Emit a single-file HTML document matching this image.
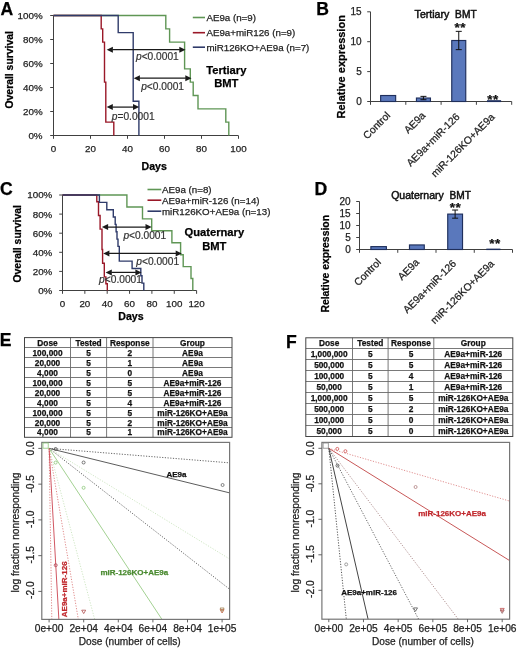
<!DOCTYPE html>
<html><head><meta charset="utf-8"><style>
html,body{margin:0;padding:0;background:#fff;}
svg{display:block;will-change:transform;}
text{font-family:"Liberation Sans", sans-serif;}
</style></head><body>
<svg width="520" height="649" viewBox="0 0 520 649">
<rect width="520" height="649" fill="#fff"/>
<text x="0.40" y="15.00" font-size="17.6" text-anchor="start" font-weight="bold" fill="#000" stroke="#000" stroke-width="0.25"  style="">A</text>
<line x1="53.50" y1="15.50" x2="53.50" y2="136.00" stroke="#404040" stroke-width="1" />
<line x1="50.20" y1="15.50" x2="53.50" y2="15.50" stroke="#404040" stroke-width="1" />
<text x="42.60" y="18.95" font-size="9.8" text-anchor="end" font-weight="normal" fill="#222" stroke="#222" stroke-width="0.25"  style="">100%</text>
<line x1="50.20" y1="39.50" x2="53.50" y2="39.50" stroke="#404040" stroke-width="1" />
<text x="42.60" y="42.95" font-size="9.8" text-anchor="end" font-weight="normal" fill="#222" stroke="#222" stroke-width="0.25"  style="">80%</text>
<line x1="50.20" y1="63.50" x2="53.50" y2="63.50" stroke="#404040" stroke-width="1" />
<text x="42.60" y="66.95" font-size="9.8" text-anchor="end" font-weight="normal" fill="#222" stroke="#222" stroke-width="0.25"  style="">60%</text>
<line x1="50.20" y1="87.50" x2="53.50" y2="87.50" stroke="#404040" stroke-width="1" />
<text x="42.60" y="90.95" font-size="9.8" text-anchor="end" font-weight="normal" fill="#222" stroke="#222" stroke-width="0.25"  style="">40%</text>
<line x1="50.20" y1="111.50" x2="53.50" y2="111.50" stroke="#404040" stroke-width="1" />
<text x="42.60" y="114.95" font-size="9.8" text-anchor="end" font-weight="normal" fill="#222" stroke="#222" stroke-width="0.25"  style="">20%</text>
<line x1="50.20" y1="135.50" x2="53.50" y2="135.50" stroke="#404040" stroke-width="1" />
<text x="42.60" y="138.95" font-size="9.8" text-anchor="end" font-weight="normal" fill="#222" stroke="#222" stroke-width="0.25"  style="">0%</text>
<line x1="53.50" y1="135.50" x2="238.30" y2="135.50" stroke="#404040" stroke-width="1" />
<line x1="53.50" y1="135.50" x2="53.50" y2="138.80" stroke="#404040" stroke-width="1" />
<text x="53.50" y="151.80" font-size="9.8" text-anchor="middle" font-weight="normal" fill="#222" stroke="#222" stroke-width="0.25"  style="">0</text>
<line x1="90.50" y1="135.50" x2="90.50" y2="138.80" stroke="#404040" stroke-width="1" />
<text x="90.50" y="151.80" font-size="9.8" text-anchor="middle" font-weight="normal" fill="#222" stroke="#222" stroke-width="0.25"  style="">20</text>
<line x1="127.50" y1="135.50" x2="127.50" y2="138.80" stroke="#404040" stroke-width="1" />
<text x="127.50" y="151.80" font-size="9.8" text-anchor="middle" font-weight="normal" fill="#222" stroke="#222" stroke-width="0.25"  style="">40</text>
<line x1="164.50" y1="135.50" x2="164.50" y2="138.80" stroke="#404040" stroke-width="1" />
<text x="164.50" y="151.80" font-size="9.8" text-anchor="middle" font-weight="normal" fill="#222" stroke="#222" stroke-width="0.25"  style="">60</text>
<line x1="201.50" y1="135.50" x2="201.50" y2="138.80" stroke="#404040" stroke-width="1" />
<text x="201.50" y="151.80" font-size="9.8" text-anchor="middle" font-weight="normal" fill="#222" stroke="#222" stroke-width="0.25"  style="">80</text>
<line x1="238.50" y1="135.50" x2="238.50" y2="138.80" stroke="#404040" stroke-width="1" />
<text x="238.50" y="151.80" font-size="9.8" text-anchor="middle" font-weight="normal" fill="#222" stroke="#222" stroke-width="0.25"  style="">100</text>
<text x="0" y="0" transform="translate(13.20,69.80) rotate(-90)" font-size="10.4" text-anchor="middle" font-weight="bold" fill="#000" stroke="#000" stroke-width="0.25">Overall survival</text>
<text x="154.20" y="169.60" font-size="10.6" text-anchor="middle" font-weight="bold" fill="#000" stroke="#000" stroke-width="0.25"  style="">Days</text>
<polyline points="53.50,15.50 165.80,15.50 165.80,28.83 169.60,28.83 169.60,42.17 184.60,42.17 184.60,68.83 190.30,68.83 190.30,82.17 193.20,82.17 193.20,95.50 198.00,95.50 198.00,108.83 225.80,108.83 225.80,122.17 228.80,122.17 228.80,135.50" fill="none" stroke="#5f9655" stroke-width="1.4" stroke-linejoin="miter" />
<polyline points="53.50,15.50 101.20,15.50 101.20,28.83 102.70,28.83 102.70,42.17 104.50,42.17 104.50,82.17 105.80,82.17 105.80,122.17 113.80,122.17 113.80,135.50" fill="none" stroke="#9a1828" stroke-width="1.4" stroke-linejoin="miter" />
<polyline points="53.50,15.50 118.20,15.50 118.20,32.64 133.20,32.64 133.20,101.21 138.90,101.21 138.90,135.50" fill="none" stroke="#2f3b6a" stroke-width="1.4" stroke-linejoin="miter" />
<line x1="112.40" y1="49.70" x2="179.80" y2="49.70" stroke="#1a1a1a" stroke-width="1.25" />
<polygon points="106.70,49.70 112.90,46.70 112.90,52.70" fill="#1a1a1a"/>
<polygon points="185.50,49.70 179.30,46.70 179.30,52.70" fill="#1a1a1a"/>
<line x1="139.40" y1="78.20" x2="185.80" y2="78.20" stroke="#1a1a1a" stroke-width="1.25" />
<polygon points="133.70,78.20 139.90,75.20 139.90,81.20" fill="#1a1a1a"/>
<polygon points="191.50,78.20 185.30,75.20 185.30,81.20" fill="#1a1a1a"/>
<line x1="112.30" y1="107.10" x2="133.50" y2="107.10" stroke="#1a1a1a" stroke-width="1.25" />
<polygon points="106.60,107.10 112.80,104.10 112.80,110.10" fill="#1a1a1a"/>
<polygon points="139.20,107.10 133.00,104.10 133.00,110.10" fill="#1a1a1a"/>
<text x="136.00" y="60.20" font-size="10.2" fill="#333333" stroke="#333333" stroke-width="0.2"><tspan font-style="italic">p</tspan>&lt;0.0001</text>
<text x="141.20" y="90.00" font-size="10.2" fill="#333333" stroke="#333333" stroke-width="0.2"><tspan font-style="italic">p</tspan>&lt;0.0001</text>
<text x="111.80" y="120.00" font-size="10.2" fill="#333333" stroke="#333333" stroke-width="0.2"><tspan font-style="italic">p</tspan>=0.0001</text>
<line x1="192.80" y1="17.50" x2="205.00" y2="17.50" stroke="#5f9655" stroke-width="1.6" />
<text x="206.40" y="21.00" font-size="9.75" text-anchor="start" font-weight="normal" fill="#222" stroke="#222" stroke-width="0.25"  style="">AE9a (n=9)</text>
<line x1="192.80" y1="32.70" x2="205.00" y2="32.70" stroke="#9a1828" stroke-width="1.6" />
<text x="206.40" y="36.20" font-size="9.75" text-anchor="start" font-weight="normal" fill="#222" stroke="#222" stroke-width="0.25"  style="">AE9a+miR126 (n=9)</text>
<line x1="192.80" y1="47.20" x2="205.00" y2="47.20" stroke="#2f3b6a" stroke-width="1.6" />
<text x="206.40" y="50.70" font-size="9.75" text-anchor="start" font-weight="normal" fill="#222" stroke="#222" stroke-width="0.25"  style="">miR126KO+AE9a (n=7)</text>
<text x="226.30" y="73.80" font-size="11.2" text-anchor="middle" font-weight="bold" fill="#000" stroke="#000" stroke-width="0.25"  style="">Tertiary</text>
<text x="226.30" y="87.30" font-size="11.2" text-anchor="middle" font-weight="bold" fill="#000" stroke="#000" stroke-width="0.25"  style="">BMT</text>
<text x="0.00" y="194.50" font-size="17.6" text-anchor="start" font-weight="bold" fill="#000" stroke="#000" stroke-width="0.25"  style="">C</text>
<line x1="62.50" y1="195.00" x2="62.50" y2="291.00" stroke="#404040" stroke-width="1" />
<line x1="59.20" y1="195.00" x2="62.50" y2="195.00" stroke="#404040" stroke-width="1" />
<text x="52.30" y="198.45" font-size="9.8" text-anchor="end" font-weight="normal" fill="#222" stroke="#222" stroke-width="0.25"  style="">100%</text>
<line x1="59.20" y1="214.10" x2="62.50" y2="214.10" stroke="#404040" stroke-width="1" />
<text x="52.30" y="217.55" font-size="9.8" text-anchor="end" font-weight="normal" fill="#222" stroke="#222" stroke-width="0.25"  style="">80%</text>
<line x1="59.20" y1="233.20" x2="62.50" y2="233.20" stroke="#404040" stroke-width="1" />
<text x="52.30" y="236.65" font-size="9.8" text-anchor="end" font-weight="normal" fill="#222" stroke="#222" stroke-width="0.25"  style="">60%</text>
<line x1="59.20" y1="252.30" x2="62.50" y2="252.30" stroke="#404040" stroke-width="1" />
<text x="52.30" y="255.75" font-size="9.8" text-anchor="end" font-weight="normal" fill="#222" stroke="#222" stroke-width="0.25"  style="">40%</text>
<line x1="59.20" y1="271.40" x2="62.50" y2="271.40" stroke="#404040" stroke-width="1" />
<text x="52.30" y="274.85" font-size="9.8" text-anchor="end" font-weight="normal" fill="#222" stroke="#222" stroke-width="0.25"  style="">20%</text>
<line x1="59.20" y1="290.50" x2="62.50" y2="290.50" stroke="#404040" stroke-width="1" />
<text x="52.30" y="293.95" font-size="9.8" text-anchor="end" font-weight="normal" fill="#222" stroke="#222" stroke-width="0.25"  style="">0%</text>
<line x1="62.50" y1="290.50" x2="196.60" y2="290.50" stroke="#404040" stroke-width="1" />
<line x1="62.50" y1="290.50" x2="62.50" y2="293.80" stroke="#404040" stroke-width="1" />
<text x="62.50" y="306.50" font-size="9.8" text-anchor="middle" font-weight="normal" fill="#222" stroke="#222" stroke-width="0.25"  style="">0</text>
<line x1="84.85" y1="290.50" x2="84.85" y2="293.80" stroke="#404040" stroke-width="1" />
<text x="84.85" y="306.50" font-size="9.8" text-anchor="middle" font-weight="normal" fill="#222" stroke="#222" stroke-width="0.25"  style="">20</text>
<line x1="107.20" y1="290.50" x2="107.20" y2="293.80" stroke="#404040" stroke-width="1" />
<text x="107.20" y="306.50" font-size="9.8" text-anchor="middle" font-weight="normal" fill="#222" stroke="#222" stroke-width="0.25"  style="">40</text>
<line x1="129.55" y1="290.50" x2="129.55" y2="293.80" stroke="#404040" stroke-width="1" />
<text x="129.55" y="306.50" font-size="9.8" text-anchor="middle" font-weight="normal" fill="#222" stroke="#222" stroke-width="0.25"  style="">60</text>
<line x1="151.90" y1="290.50" x2="151.90" y2="293.80" stroke="#404040" stroke-width="1" />
<text x="151.90" y="306.50" font-size="9.8" text-anchor="middle" font-weight="normal" fill="#222" stroke="#222" stroke-width="0.25"  style="">80</text>
<line x1="174.25" y1="290.50" x2="174.25" y2="293.80" stroke="#404040" stroke-width="1" />
<text x="174.25" y="306.50" font-size="9.8" text-anchor="middle" font-weight="normal" fill="#222" stroke="#222" stroke-width="0.25"  style="">100</text>
<line x1="196.60" y1="290.50" x2="196.60" y2="293.80" stroke="#404040" stroke-width="1" />
<text x="196.60" y="306.50" font-size="9.8" text-anchor="middle" font-weight="normal" fill="#222" stroke="#222" stroke-width="0.25"  style="">120</text>
<text x="0" y="0" transform="translate(21.00,243.80) rotate(-90)" font-size="10.4" text-anchor="middle" font-weight="bold" fill="#000" stroke="#000" stroke-width="0.25">Overall survival</text>
<text x="131.00" y="320.30" font-size="10.6" text-anchor="middle" font-weight="bold" fill="#000" stroke="#000" stroke-width="0.25"  style="">Days</text>
<polyline points="62.50,195.00 126.90,195.00 126.90,206.94 142.50,206.94 142.50,218.88 151.70,218.88 151.70,230.81 171.90,230.81 171.90,242.75 180.60,242.75 180.60,254.69 183.20,254.69 183.20,266.62 191.00,266.62 191.00,278.56 192.80,278.56 192.80,290.50" fill="none" stroke="#5f9655" stroke-width="1.4" stroke-linejoin="miter" />
<polyline points="62.50,195.00 96.80,195.00 96.80,201.82 98.50,201.82 98.50,215.46 100.10,215.46 100.10,229.11 102.00,229.11 102.00,249.57 102.60,249.57 102.60,263.21 104.30,263.21 104.30,276.86 105.90,276.86 105.90,283.68 107.30,283.68 107.30,290.50" fill="none" stroke="#9a1828" stroke-width="1.4" stroke-linejoin="miter" />
<polyline points="62.50,195.00 99.40,195.00 99.40,202.35 106.80,202.35 106.80,209.69 113.30,209.69 113.30,217.04 115.20,217.04 115.20,224.38 116.10,224.38 116.10,231.73 117.00,231.73 117.00,239.08 118.00,239.08 118.00,246.42 119.30,246.42 119.30,253.77 119.30,253.77 119.30,261.12 132.10,261.12 132.10,268.46 140.80,268.46 140.80,275.81 142.00,275.81 142.00,283.15 143.80,283.15 143.80,290.50" fill="none" stroke="#2f3b6a" stroke-width="1.4" stroke-linejoin="miter" />
<line x1="107.60" y1="227.00" x2="146.00" y2="227.00" stroke="#1a1a1a" stroke-width="1.25" />
<polygon points="101.90,227.00 108.10,224.00 108.10,230.00" fill="#1a1a1a"/>
<polygon points="151.70,227.00 145.50,224.00 145.50,230.00" fill="#1a1a1a"/>
<line x1="108.90" y1="253.40" x2="176.20" y2="253.40" stroke="#1a1a1a" stroke-width="1.25" />
<polygon points="103.20,253.40 109.40,250.40 109.40,256.40" fill="#1a1a1a"/>
<polygon points="181.90,253.40 175.70,250.40 175.70,256.40" fill="#1a1a1a"/>
<line x1="111.30" y1="272.40" x2="135.90" y2="272.40" stroke="#1a1a1a" stroke-width="1.25" />
<polygon points="105.60,272.40 111.80,269.40 111.80,275.40" fill="#1a1a1a"/>
<polygon points="141.60,272.40 135.40,269.40 135.40,275.40" fill="#1a1a1a"/>
<text x="123.40" y="239.30" font-size="10.2" fill="#333333" stroke="#333333" stroke-width="0.2"><tspan font-style="italic">p</tspan>&lt;0.0001</text>
<text x="136.30" y="265.30" font-size="10.2" fill="#333333" stroke="#333333" stroke-width="0.2"><tspan font-style="italic">p</tspan>&lt;0.0001</text>
<text x="99.10" y="282.90" font-size="10.2" fill="#333333" stroke="#333333" stroke-width="0.2"><tspan font-style="italic">p</tspan>&lt;0.0001</text>
<line x1="147.50" y1="189.50" x2="161.30" y2="189.50" stroke="#5f9655" stroke-width="1.6" />
<text x="162.00" y="192.90" font-size="9.75" text-anchor="start" font-weight="normal" fill="#222" stroke="#222" stroke-width="0.25"  style="">AE9a (n=8)</text>
<line x1="147.50" y1="200.20" x2="161.30" y2="200.20" stroke="#9a1828" stroke-width="1.6" />
<text x="162.00" y="203.60" font-size="9.75" text-anchor="start" font-weight="normal" fill="#222" stroke="#222" stroke-width="0.25"  style="">AE9a+miR-126 (n=14)</text>
<line x1="147.50" y1="211.20" x2="161.30" y2="211.20" stroke="#2f3b6a" stroke-width="1.6" />
<text x="162.00" y="214.60" font-size="9.75" text-anchor="start" font-weight="normal" fill="#222" stroke="#222" stroke-width="0.25"  style="">miR126KO+AE9a (n=13)</text>
<text x="214.30" y="236.40" font-size="11.2" text-anchor="middle" font-weight="bold" fill="#000" stroke="#000" stroke-width="0.25"  style="">Quaternary</text>
<text x="214.30" y="250.30" font-size="11.2" text-anchor="middle" font-weight="bold" fill="#000" stroke="#000" stroke-width="0.25"  style="">BMT</text>
<text x="316.20" y="15.30" font-size="17.6" text-anchor="start" font-weight="bold" fill="#000" stroke="#000" stroke-width="0.25"  style="">B</text>
<line x1="370.50" y1="11.80" x2="370.50" y2="102.00" stroke="#404040" stroke-width="1" />
<line x1="367.20" y1="101.50" x2="370.50" y2="101.50" stroke="#404040" stroke-width="1" />
<text x="361.70" y="105.00" font-size="10" text-anchor="end" font-weight="normal" fill="#222" stroke="#222" stroke-width="0.25"  style="">0</text>
<line x1="367.20" y1="71.60" x2="370.50" y2="71.60" stroke="#404040" stroke-width="1" />
<text x="361.70" y="75.10" font-size="10" text-anchor="end" font-weight="normal" fill="#222" stroke="#222" stroke-width="0.25"  style="">5</text>
<line x1="367.20" y1="41.70" x2="370.50" y2="41.70" stroke="#404040" stroke-width="1" />
<text x="361.70" y="45.20" font-size="10" text-anchor="end" font-weight="normal" fill="#222" stroke="#222" stroke-width="0.25"  style="">10</text>
<line x1="367.20" y1="11.80" x2="370.50" y2="11.80" stroke="#404040" stroke-width="1" />
<text x="361.70" y="15.30" font-size="10" text-anchor="end" font-weight="normal" fill="#222" stroke="#222" stroke-width="0.25"  style="">15</text>
<line x1="370.50" y1="101.50" x2="511.70" y2="101.50" stroke="#404040" stroke-width="1" />
<line x1="370.50" y1="101.50" x2="370.50" y2="104.80" stroke="#404040" stroke-width="1" />
<line x1="405.80" y1="101.50" x2="405.80" y2="104.80" stroke="#404040" stroke-width="1" />
<line x1="441.10" y1="101.50" x2="441.10" y2="104.80" stroke="#404040" stroke-width="1" />
<line x1="476.40" y1="101.50" x2="476.40" y2="104.80" stroke="#404040" stroke-width="1" />
<line x1="511.70" y1="101.50" x2="511.70" y2="104.80" stroke="#404040" stroke-width="1" />
<rect x="380.65" y="95.52" width="15.00" height="5.98" fill="#5a78bc" stroke="#1f2f5c" stroke-width="1.15"/>
<rect x="416.45" y="98.03" width="14.00" height="3.47" fill="#5a78bc" stroke="#1f2f5c" stroke-width="1.15"/>
<line x1="423.45" y1="96.36" x2="423.45" y2="99.71" stroke="#111" stroke-width="1" />
<line x1="420.45" y1="96.36" x2="426.45" y2="96.36" stroke="#111" stroke-width="1" />
<line x1="420.45" y1="99.71" x2="426.45" y2="99.71" stroke="#111" stroke-width="1" />
<rect x="451.75" y="40.50" width="14.00" height="61.00" fill="#5a78bc" stroke="#1f2f5c" stroke-width="1.15"/>
<line x1="458.75" y1="31.35" x2="458.75" y2="49.65" stroke="#111" stroke-width="1" />
<line x1="455.75" y1="31.35" x2="461.75" y2="31.35" stroke="#111" stroke-width="1" />
<line x1="455.75" y1="49.65" x2="461.75" y2="49.65" stroke="#111" stroke-width="1" />
<rect x="487.55" y="100.78" width="13.00" height="0.72" fill="#5a78bc" stroke="#1f2f5c" stroke-width="1.15"/>
<text x="0" y="0" transform="translate(390.85,116.20) rotate(-45)" font-size="10.3" text-anchor="end" font-weight="normal" fill="#222" stroke="#222" stroke-width="0.25">Control</text>
<text x="0" y="0" transform="translate(426.15,116.20) rotate(-45)" font-size="10.3" text-anchor="end" font-weight="normal" fill="#222" stroke="#222" stroke-width="0.25">AE9a</text>
<text x="0" y="0" transform="translate(460.25,117.40) rotate(-45)" font-size="10.3" text-anchor="end" font-weight="normal" fill="#222" stroke="#222" stroke-width="0.25">AE9a+miR-126</text>
<text x="0" y="0" transform="translate(495.25,117.70) rotate(-45)" font-size="10.3" text-anchor="end" font-weight="normal" fill="#222" stroke="#222" stroke-width="0.25">miR-126KO+AE9a</text>
<text x="414.60" y="18.20" font-size="10.6" text-anchor="start" font-weight="normal" fill="#111" stroke="#111" stroke-width="0.5"  style="">Tertiary</text>
<text x="455.10" y="18.20" font-size="10.2" text-anchor="start" font-weight="normal" fill="#111" stroke="#111" stroke-width="0.5"  style="">BMT</text>
<text x="0" y="0" transform="translate(344.80,66.80) rotate(-90)" font-size="11.0" text-anchor="middle" font-weight="bold" fill="#000" stroke="#000" stroke-width="0.25">Relative expression</text>
<text x="460.30" y="31.80" font-size="13.5" text-anchor="middle" font-weight="bold" fill="#111" stroke="#111" stroke-width="0.25" letter-spacing="0.6" style="">**</text>
<text x="493.00" y="103.80" font-size="13.5" text-anchor="middle" font-weight="bold" fill="#111" stroke="#111" stroke-width="0.25" letter-spacing="0.6" style="">**</text>
<text x="314.40" y="194.80" font-size="17.6" text-anchor="start" font-weight="bold" fill="#000" stroke="#000" stroke-width="0.25"  style="">D</text>
<line x1="359.50" y1="201.50" x2="359.50" y2="250.00" stroke="#404040" stroke-width="1" />
<line x1="356.20" y1="249.50" x2="359.50" y2="249.50" stroke="#404040" stroke-width="1" />
<text x="350.70" y="253.00" font-size="10" text-anchor="end" font-weight="normal" fill="#222" stroke="#222" stroke-width="0.25"  style="">0</text>
<line x1="356.20" y1="237.50" x2="359.50" y2="237.50" stroke="#404040" stroke-width="1" />
<text x="350.70" y="241.00" font-size="10" text-anchor="end" font-weight="normal" fill="#222" stroke="#222" stroke-width="0.25"  style="">5</text>
<line x1="356.20" y1="225.50" x2="359.50" y2="225.50" stroke="#404040" stroke-width="1" />
<text x="350.70" y="229.00" font-size="10" text-anchor="end" font-weight="normal" fill="#222" stroke="#222" stroke-width="0.25"  style="">10</text>
<line x1="356.20" y1="213.50" x2="359.50" y2="213.50" stroke="#404040" stroke-width="1" />
<text x="350.70" y="217.00" font-size="10" text-anchor="end" font-weight="normal" fill="#222" stroke="#222" stroke-width="0.25"  style="">15</text>
<line x1="356.20" y1="201.50" x2="359.50" y2="201.50" stroke="#404040" stroke-width="1" />
<text x="350.70" y="205.00" font-size="10" text-anchor="end" font-weight="normal" fill="#222" stroke="#222" stroke-width="0.25"  style="">20</text>
<line x1="359.50" y1="249.50" x2="512.50" y2="249.50" stroke="#404040" stroke-width="1" />
<line x1="359.50" y1="249.50" x2="359.50" y2="252.80" stroke="#404040" stroke-width="1" />
<line x1="397.75" y1="249.50" x2="397.75" y2="252.80" stroke="#404040" stroke-width="1" />
<line x1="436.00" y1="249.50" x2="436.00" y2="252.80" stroke="#404040" stroke-width="1" />
<line x1="474.25" y1="249.50" x2="474.25" y2="252.80" stroke="#404040" stroke-width="1" />
<line x1="512.50" y1="249.50" x2="512.50" y2="252.80" stroke="#404040" stroke-width="1" />
<rect x="370.88" y="246.62" width="15.50" height="2.88" fill="#5a78bc" stroke="#1f2f5c" stroke-width="1.15"/>
<rect x="409.48" y="244.94" width="14.80" height="4.56" fill="#5a78bc" stroke="#1f2f5c" stroke-width="1.15"/>
<rect x="447.73" y="214.10" width="14.80" height="35.40" fill="#5a78bc" stroke="#1f2f5c" stroke-width="1.15"/>
<line x1="455.12" y1="210.02" x2="455.12" y2="218.18" stroke="#111" stroke-width="1" />
<line x1="452.12" y1="210.02" x2="458.12" y2="210.02" stroke="#111" stroke-width="1" />
<line x1="452.12" y1="218.18" x2="458.12" y2="218.18" stroke="#111" stroke-width="1" />
<rect x="486.88" y="249.21" width="13.00" height="0.29" fill="#5a78bc" stroke="#1f2f5c" stroke-width="1.15"/>
<text x="0" y="0" transform="translate(381.62,263.00) rotate(-45)" font-size="10.3" text-anchor="end" font-weight="normal" fill="#222" stroke="#222" stroke-width="0.25">Control</text>
<text x="0" y="0" transform="translate(419.88,263.00) rotate(-45)" font-size="10.3" text-anchor="end" font-weight="normal" fill="#222" stroke="#222" stroke-width="0.25">AE9a</text>
<text x="0" y="0" transform="translate(456.93,264.20) rotate(-45)" font-size="10.3" text-anchor="end" font-weight="normal" fill="#222" stroke="#222" stroke-width="0.25">AE9a+miR-126</text>
<text x="0" y="0" transform="translate(494.88,264.50) rotate(-45)" font-size="10.3" text-anchor="end" font-weight="normal" fill="#222" stroke="#222" stroke-width="0.25">miR-126KO+AE9a</text>
<text x="391.20" y="199.30" font-size="10.5" text-anchor="start" font-weight="normal" fill="#111" stroke="#111" stroke-width="0.5"  style="">Quaternary</text>
<text x="449.60" y="199.30" font-size="10.1" text-anchor="start" font-weight="normal" fill="#111" stroke="#111" stroke-width="0.5"  style="">BMT</text>
<text x="0" y="0" transform="translate(329.30,263.80) rotate(-90)" font-size="10.4" text-anchor="middle" font-weight="bold" fill="#000" stroke="#000" stroke-width="0.25">Relative expression</text>
<text x="455.60" y="211.80" font-size="13.5" text-anchor="middle" font-weight="bold" fill="#111" stroke="#111" stroke-width="0.25" letter-spacing="0.6" style="">**</text>
<text x="495.00" y="248.00" font-size="13.5" text-anchor="middle" font-weight="bold" fill="#111" stroke="#111" stroke-width="0.25" letter-spacing="0.6" style="">**</text>
<text x="-0.20" y="345.50" font-size="17.6" text-anchor="start" font-weight="bold" fill="#000" stroke="#000" stroke-width="0.25"  style="">E</text>
<line x1="24.50" y1="347.50" x2="232.00" y2="347.50" stroke="#6a6a6a" stroke-width="0.9" />
<line x1="24.50" y1="357.50" x2="232.00" y2="357.50" stroke="#6a6a6a" stroke-width="0.9" />
<line x1="24.50" y1="367.50" x2="232.00" y2="367.50" stroke="#6a6a6a" stroke-width="0.9" />
<line x1="24.50" y1="377.50" x2="232.00" y2="377.50" stroke="#6a6a6a" stroke-width="0.9" />
<line x1="24.50" y1="387.50" x2="232.00" y2="387.50" stroke="#6a6a6a" stroke-width="0.9" />
<line x1="24.50" y1="397.50" x2="232.00" y2="397.50" stroke="#6a6a6a" stroke-width="0.9" />
<line x1="24.50" y1="407.50" x2="232.00" y2="407.50" stroke="#6a6a6a" stroke-width="0.9" />
<line x1="24.50" y1="417.50" x2="232.00" y2="417.50" stroke="#6a6a6a" stroke-width="0.9" />
<line x1="24.50" y1="427.50" x2="232.00" y2="427.50" stroke="#6a6a6a" stroke-width="0.9" />
<line x1="70.50" y1="337.60" x2="70.50" y2="437.30" stroke="#6a6a6a" stroke-width="0.9" />
<line x1="106.60" y1="337.60" x2="106.60" y2="437.30" stroke="#6a6a6a" stroke-width="0.9" />
<line x1="153.00" y1="337.60" x2="153.00" y2="437.30" stroke="#6a6a6a" stroke-width="0.9" />
<rect x="24.50" y="337.60" width="207.50" height="99.70" fill="none" stroke="#444" stroke-width="1"/>
<text x="47.50" y="345.50" font-size="8.3" text-anchor="middle" font-weight="bold" fill="#111" stroke="#111" stroke-width="0.25"  style="">Dose</text>
<text x="88.55" y="345.50" font-size="8.3" text-anchor="middle" font-weight="bold" fill="#111" stroke="#111" stroke-width="0.25"  style="">Tested</text>
<text x="129.80" y="345.50" font-size="8.3" text-anchor="middle" font-weight="bold" fill="#111" stroke="#111" stroke-width="0.25"  style="">Response</text>
<text x="192.50" y="345.50" font-size="8.3" text-anchor="middle" font-weight="bold" fill="#111" stroke="#111" stroke-width="0.25"  style="">Group</text>
<text x="47.50" y="355.50" font-size="8.3" text-anchor="middle" font-weight="bold" fill="#111" stroke="#111" stroke-width="0.25"  style="">100,000</text>
<text x="88.55" y="355.50" font-size="8.3" text-anchor="middle" font-weight="bold" fill="#111" stroke="#111" stroke-width="0.25"  style="">5</text>
<text x="129.80" y="355.50" font-size="8.3" text-anchor="middle" font-weight="bold" fill="#111" stroke="#111" stroke-width="0.25"  style="">2</text>
<text x="192.50" y="355.50" font-size="8.3" text-anchor="middle" font-weight="bold" fill="#111" stroke="#111" stroke-width="0.25"  style="">AE9a</text>
<text x="47.50" y="365.50" font-size="8.3" text-anchor="middle" font-weight="bold" fill="#111" stroke="#111" stroke-width="0.25"  style="">20,000</text>
<text x="88.55" y="365.50" font-size="8.3" text-anchor="middle" font-weight="bold" fill="#111" stroke="#111" stroke-width="0.25"  style="">5</text>
<text x="129.80" y="365.50" font-size="8.3" text-anchor="middle" font-weight="bold" fill="#111" stroke="#111" stroke-width="0.25"  style="">1</text>
<text x="192.50" y="365.50" font-size="8.3" text-anchor="middle" font-weight="bold" fill="#111" stroke="#111" stroke-width="0.25"  style="">AE9a</text>
<text x="47.50" y="375.50" font-size="8.3" text-anchor="middle" font-weight="bold" fill="#111" stroke="#111" stroke-width="0.25"  style="">4,000</text>
<text x="88.55" y="375.50" font-size="8.3" text-anchor="middle" font-weight="bold" fill="#111" stroke="#111" stroke-width="0.25"  style="">5</text>
<text x="129.80" y="375.50" font-size="8.3" text-anchor="middle" font-weight="bold" fill="#111" stroke="#111" stroke-width="0.25"  style="">0</text>
<text x="192.50" y="375.50" font-size="8.3" text-anchor="middle" font-weight="bold" fill="#111" stroke="#111" stroke-width="0.25"  style="">AE9a</text>
<text x="47.50" y="385.50" font-size="8.3" text-anchor="middle" font-weight="bold" fill="#111" stroke="#111" stroke-width="0.25"  style="">100,000</text>
<text x="88.55" y="385.50" font-size="8.3" text-anchor="middle" font-weight="bold" fill="#111" stroke="#111" stroke-width="0.25"  style="">5</text>
<text x="129.80" y="385.50" font-size="8.3" text-anchor="middle" font-weight="bold" fill="#111" stroke="#111" stroke-width="0.25"  style="">5</text>
<text x="192.50" y="385.50" font-size="8.3" text-anchor="middle" font-weight="bold" fill="#111" stroke="#111" stroke-width="0.25"  style="">AE9a+miR-126</text>
<text x="47.50" y="395.50" font-size="8.3" text-anchor="middle" font-weight="bold" fill="#111" stroke="#111" stroke-width="0.25"  style="">20,000</text>
<text x="88.55" y="395.50" font-size="8.3" text-anchor="middle" font-weight="bold" fill="#111" stroke="#111" stroke-width="0.25"  style="">5</text>
<text x="129.80" y="395.50" font-size="8.3" text-anchor="middle" font-weight="bold" fill="#111" stroke="#111" stroke-width="0.25"  style="">5</text>
<text x="192.50" y="395.50" font-size="8.3" text-anchor="middle" font-weight="bold" fill="#111" stroke="#111" stroke-width="0.25"  style="">AE9a+miR-126</text>
<text x="47.50" y="405.50" font-size="8.3" text-anchor="middle" font-weight="bold" fill="#111" stroke="#111" stroke-width="0.25"  style="">4,000</text>
<text x="88.55" y="405.50" font-size="8.3" text-anchor="middle" font-weight="bold" fill="#111" stroke="#111" stroke-width="0.25"  style="">5</text>
<text x="129.80" y="405.50" font-size="8.3" text-anchor="middle" font-weight="bold" fill="#111" stroke="#111" stroke-width="0.25"  style="">4</text>
<text x="192.50" y="405.50" font-size="8.3" text-anchor="middle" font-weight="bold" fill="#111" stroke="#111" stroke-width="0.25"  style="">AE9a+miR-126</text>
<text x="47.50" y="415.50" font-size="8.3" text-anchor="middle" font-weight="bold" fill="#111" stroke="#111" stroke-width="0.25"  style="">100,000</text>
<text x="88.55" y="415.50" font-size="8.3" text-anchor="middle" font-weight="bold" fill="#111" stroke="#111" stroke-width="0.25"  style="">5</text>
<text x="129.80" y="415.50" font-size="8.3" text-anchor="middle" font-weight="bold" fill="#111" stroke="#111" stroke-width="0.25"  style="">5</text>
<text x="192.50" y="415.50" font-size="8.3" text-anchor="middle" font-weight="bold" fill="#111" stroke="#111" stroke-width="0.25"  style="">miR-126KO+AE9a</text>
<text x="47.50" y="425.50" font-size="8.3" text-anchor="middle" font-weight="bold" fill="#111" stroke="#111" stroke-width="0.25"  style="">20,000</text>
<text x="88.55" y="425.50" font-size="8.3" text-anchor="middle" font-weight="bold" fill="#111" stroke="#111" stroke-width="0.25"  style="">5</text>
<text x="129.80" y="425.50" font-size="8.3" text-anchor="middle" font-weight="bold" fill="#111" stroke="#111" stroke-width="0.25"  style="">2</text>
<text x="192.50" y="425.50" font-size="8.3" text-anchor="middle" font-weight="bold" fill="#111" stroke="#111" stroke-width="0.25"  style="">miR-126KO+AE9a</text>
<text x="47.50" y="435.30" font-size="8.3" text-anchor="middle" font-weight="bold" fill="#111" stroke="#111" stroke-width="0.25"  style="">4,000</text>
<text x="88.55" y="435.30" font-size="8.3" text-anchor="middle" font-weight="bold" fill="#111" stroke="#111" stroke-width="0.25"  style="">5</text>
<text x="129.80" y="435.30" font-size="8.3" text-anchor="middle" font-weight="bold" fill="#111" stroke="#111" stroke-width="0.25"  style="">1</text>
<text x="192.50" y="435.30" font-size="8.3" text-anchor="middle" font-weight="bold" fill="#111" stroke="#111" stroke-width="0.25"  style="">miR-126KO+AE9a</text>
<text x="286.00" y="347.50" font-size="17.6" text-anchor="start" font-weight="bold" fill="#000" stroke="#000" stroke-width="0.25"  style="">F</text>
<line x1="305.80" y1="348.50" x2="512.80" y2="348.50" stroke="#6a6a6a" stroke-width="0.9" />
<line x1="305.80" y1="359.50" x2="512.80" y2="359.50" stroke="#6a6a6a" stroke-width="0.9" />
<line x1="305.80" y1="370.50" x2="512.80" y2="370.50" stroke="#6a6a6a" stroke-width="0.9" />
<line x1="305.80" y1="381.50" x2="512.80" y2="381.50" stroke="#6a6a6a" stroke-width="0.9" />
<line x1="305.80" y1="392.50" x2="512.80" y2="392.50" stroke="#6a6a6a" stroke-width="0.9" />
<line x1="305.80" y1="403.50" x2="512.80" y2="403.50" stroke="#6a6a6a" stroke-width="0.9" />
<line x1="305.80" y1="414.50" x2="512.80" y2="414.50" stroke="#6a6a6a" stroke-width="0.9" />
<line x1="305.80" y1="425.50" x2="512.80" y2="425.50" stroke="#6a6a6a" stroke-width="0.9" />
<line x1="352.50" y1="337.80" x2="352.50" y2="436.50" stroke="#6a6a6a" stroke-width="0.9" />
<line x1="388.10" y1="337.80" x2="388.10" y2="436.50" stroke="#6a6a6a" stroke-width="0.9" />
<line x1="433.80" y1="337.80" x2="433.80" y2="436.50" stroke="#6a6a6a" stroke-width="0.9" />
<rect x="305.80" y="337.80" width="207.00" height="98.70" fill="none" stroke="#444" stroke-width="1"/>
<text x="329.15" y="345.80" font-size="8.3" text-anchor="middle" font-weight="bold" fill="#111" stroke="#111" stroke-width="0.25"  style="">Dose</text>
<text x="370.30" y="345.80" font-size="8.3" text-anchor="middle" font-weight="bold" fill="#111" stroke="#111" stroke-width="0.25"  style="">Tested</text>
<text x="410.95" y="345.80" font-size="8.3" text-anchor="middle" font-weight="bold" fill="#111" stroke="#111" stroke-width="0.25"  style="">Response</text>
<text x="473.30" y="345.80" font-size="8.3" text-anchor="middle" font-weight="bold" fill="#111" stroke="#111" stroke-width="0.25"  style="">Group</text>
<text x="329.15" y="356.80" font-size="8.3" text-anchor="middle" font-weight="bold" fill="#111" stroke="#111" stroke-width="0.25"  style="">1,000,000</text>
<text x="370.30" y="356.80" font-size="8.3" text-anchor="middle" font-weight="bold" fill="#111" stroke="#111" stroke-width="0.25"  style="">5</text>
<text x="410.95" y="356.80" font-size="8.3" text-anchor="middle" font-weight="bold" fill="#111" stroke="#111" stroke-width="0.25"  style="">5</text>
<text x="473.30" y="356.80" font-size="8.3" text-anchor="middle" font-weight="bold" fill="#111" stroke="#111" stroke-width="0.25"  style="">AE9a+miR-126</text>
<text x="329.15" y="367.80" font-size="8.3" text-anchor="middle" font-weight="bold" fill="#111" stroke="#111" stroke-width="0.25"  style="">500,000</text>
<text x="370.30" y="367.80" font-size="8.3" text-anchor="middle" font-weight="bold" fill="#111" stroke="#111" stroke-width="0.25"  style="">5</text>
<text x="410.95" y="367.80" font-size="8.3" text-anchor="middle" font-weight="bold" fill="#111" stroke="#111" stroke-width="0.25"  style="">5</text>
<text x="473.30" y="367.80" font-size="8.3" text-anchor="middle" font-weight="bold" fill="#111" stroke="#111" stroke-width="0.25"  style="">AE9a+miR-126</text>
<text x="329.15" y="378.80" font-size="8.3" text-anchor="middle" font-weight="bold" fill="#111" stroke="#111" stroke-width="0.25"  style="">100,000</text>
<text x="370.30" y="378.80" font-size="8.3" text-anchor="middle" font-weight="bold" fill="#111" stroke="#111" stroke-width="0.25"  style="">5</text>
<text x="410.95" y="378.80" font-size="8.3" text-anchor="middle" font-weight="bold" fill="#111" stroke="#111" stroke-width="0.25"  style="">4</text>
<text x="473.30" y="378.80" font-size="8.3" text-anchor="middle" font-weight="bold" fill="#111" stroke="#111" stroke-width="0.25"  style="">AE9a+miR-126</text>
<text x="329.15" y="389.80" font-size="8.3" text-anchor="middle" font-weight="bold" fill="#111" stroke="#111" stroke-width="0.25"  style="">50,000</text>
<text x="370.30" y="389.80" font-size="8.3" text-anchor="middle" font-weight="bold" fill="#111" stroke="#111" stroke-width="0.25"  style="">5</text>
<text x="410.95" y="389.80" font-size="8.3" text-anchor="middle" font-weight="bold" fill="#111" stroke="#111" stroke-width="0.25"  style="">1</text>
<text x="473.30" y="389.80" font-size="8.3" text-anchor="middle" font-weight="bold" fill="#111" stroke="#111" stroke-width="0.25"  style="">AE9a+miR-126</text>
<text x="329.15" y="400.80" font-size="8.3" text-anchor="middle" font-weight="bold" fill="#111" stroke="#111" stroke-width="0.25"  style="">1,000,000</text>
<text x="370.30" y="400.80" font-size="8.3" text-anchor="middle" font-weight="bold" fill="#111" stroke="#111" stroke-width="0.25"  style="">5</text>
<text x="410.95" y="400.80" font-size="8.3" text-anchor="middle" font-weight="bold" fill="#111" stroke="#111" stroke-width="0.25"  style="">5</text>
<text x="473.30" y="400.80" font-size="8.3" text-anchor="middle" font-weight="bold" fill="#111" stroke="#111" stroke-width="0.25"  style="">miR-126KO+AE9a</text>
<text x="329.15" y="411.80" font-size="8.3" text-anchor="middle" font-weight="bold" fill="#111" stroke="#111" stroke-width="0.25"  style="">500,000</text>
<text x="370.30" y="411.80" font-size="8.3" text-anchor="middle" font-weight="bold" fill="#111" stroke="#111" stroke-width="0.25"  style="">5</text>
<text x="410.95" y="411.80" font-size="8.3" text-anchor="middle" font-weight="bold" fill="#111" stroke="#111" stroke-width="0.25"  style="">2</text>
<text x="473.30" y="411.80" font-size="8.3" text-anchor="middle" font-weight="bold" fill="#111" stroke="#111" stroke-width="0.25"  style="">miR-126KO+AE9a</text>
<text x="329.15" y="422.80" font-size="8.3" text-anchor="middle" font-weight="bold" fill="#111" stroke="#111" stroke-width="0.25"  style="">100,000</text>
<text x="370.30" y="422.80" font-size="8.3" text-anchor="middle" font-weight="bold" fill="#111" stroke="#111" stroke-width="0.25"  style="">5</text>
<text x="410.95" y="422.80" font-size="8.3" text-anchor="middle" font-weight="bold" fill="#111" stroke="#111" stroke-width="0.25"  style="">0</text>
<text x="473.30" y="422.80" font-size="8.3" text-anchor="middle" font-weight="bold" fill="#111" stroke="#111" stroke-width="0.25"  style="">miR-126KO+AE9a</text>
<text x="329.15" y="433.80" font-size="8.3" text-anchor="middle" font-weight="bold" fill="#111" stroke="#111" stroke-width="0.25"  style="">50,000</text>
<text x="370.30" y="433.80" font-size="8.3" text-anchor="middle" font-weight="bold" fill="#111" stroke="#111" stroke-width="0.25"  style="">5</text>
<text x="410.95" y="433.80" font-size="8.3" text-anchor="middle" font-weight="bold" fill="#111" stroke="#111" stroke-width="0.25"  style="">0</text>
<text x="473.30" y="433.80" font-size="8.3" text-anchor="middle" font-weight="bold" fill="#111" stroke="#111" stroke-width="0.25"  style="">miR-126KO+AE9a</text>
<clipPath id="clip41"><rect x="41.80" y="442.40" width="187.80" height="177.00"/></clipPath>
<g clip-path="url(#clip41)">
<line x1="49.10" y1="448.40" x2="449.10" y2="480.40" stroke="#666" stroke-width="1.0" stroke-dasharray="1.2 1.5"/>
<line x1="49.10" y1="448.40" x2="449.10" y2="760.40" stroke="#666" stroke-width="1.0" stroke-dasharray="1.2 1.5"/>
<line x1="49.10" y1="448.40" x2="449.10" y2="693.44" stroke="#cfe6c4" stroke-width="1.0" stroke-dasharray="1.2 1.5"/>
<line x1="49.10" y1="448.40" x2="449.10" y2="1948.40" stroke="#cfe6c4" stroke-width="1.0" stroke-dasharray="1.2 1.5"/>
<line x1="49.10" y1="448.40" x2="449.10" y2="2788.40" stroke="#e08a8a" stroke-width="1.0" stroke-dasharray="1.2 1.5"/>
<line x1="49.10" y1="448.40" x2="449.10" y2="25648.40" stroke="#e08a8a" stroke-width="1.0" stroke-dasharray="1.2 1.5"/>
<line x1="49.10" y1="448.40" x2="449.10" y2="546.96" stroke="#4a4a4a" stroke-width="0.9" />
<line x1="49.10" y1="448.40" x2="449.10" y2="1054.40" stroke="#98cc86" stroke-width="0.9" />
<line x1="49.10" y1="448.40" x2="449.10" y2="7448.40" stroke="#cc4450" stroke-width="0.9" />
</g>
<rect x="41.80" y="442.40" width="187.80" height="177.00" fill="none" stroke="#767676" stroke-width="1.2"/>
<rect x="43.00" y="443.00" width="5.2" height="5.2" fill="none" stroke="#8cc878" stroke-width="0.8"/>
<circle cx="55.60" cy="449.00" r="1.5" fill="none" stroke="#444" stroke-width="0.8"/>
<circle cx="83.60" cy="462.50" r="1.5" fill="none" stroke="#555" stroke-width="0.8"/>
<circle cx="222.60" cy="485.00" r="1.5" fill="none" stroke="#666" stroke-width="0.8"/>
<circle cx="83.60" cy="487.80" r="1.5" fill="none" stroke="#8cc878" stroke-width="0.8"/>
<circle cx="55.60" cy="462.60" r="1.5" fill="none" stroke="#8cc878" stroke-width="0.8"/>
<circle cx="55.70" cy="565.20" r="1.5" fill="none" stroke="#b04050" stroke-width="0.8"/>
<polygon points="81.70,610.20 85.70,610.20 83.70,613.60" fill="none" stroke="#b05050" stroke-width="0.8"/>
<polygon points="220.10,609.60 224.10,609.60 222.10,613.00" fill="none" stroke="#c06040" stroke-width="0.8"/>
<polygon points="220.10,608.00 224.10,608.00 222.10,611.40" fill="none" stroke="#a08050" stroke-width="0.8"/>
<line x1="38.30" y1="448.40" x2="41.80" y2="448.40" stroke="#555" stroke-width="0.9" />
<text x="0" y="0" transform="translate(34.00,448.40) rotate(-90)" font-size="10.2" text-anchor="middle" font-weight="normal" fill="#222" stroke="#222" stroke-width="0.25">0.0</text>
<line x1="38.30" y1="484.15" x2="41.80" y2="484.15" stroke="#555" stroke-width="0.9" />
<text x="0" y="0" transform="translate(34.00,483.85) rotate(-90)" font-size="10.2" text-anchor="middle" font-weight="normal" fill="#222" stroke="#222" stroke-width="0.25">-0.5</text>
<line x1="38.30" y1="519.90" x2="41.80" y2="519.90" stroke="#555" stroke-width="0.9" />
<text x="0" y="0" transform="translate(34.00,519.30) rotate(-90)" font-size="10.2" text-anchor="middle" font-weight="normal" fill="#222" stroke="#222" stroke-width="0.25">-1.0</text>
<line x1="38.30" y1="555.65" x2="41.80" y2="555.65" stroke="#555" stroke-width="0.9" />
<text x="0" y="0" transform="translate(34.00,554.75) rotate(-90)" font-size="10.2" text-anchor="middle" font-weight="normal" fill="#222" stroke="#222" stroke-width="0.25">-1.5</text>
<line x1="38.30" y1="591.40" x2="41.80" y2="591.40" stroke="#555" stroke-width="0.9" />
<text x="0" y="0" transform="translate(34.00,590.20) rotate(-90)" font-size="10.2" text-anchor="middle" font-weight="normal" fill="#222" stroke="#222" stroke-width="0.25">-2.0</text>
<line x1="49.10" y1="619.40" x2="49.10" y2="622.40" stroke="#555" stroke-width="0.9" />
<text x="49.10" y="632.20" font-size="10.2" text-anchor="middle" font-weight="normal" fill="#222" stroke="#222" stroke-width="0.25"  style="">0e+00</text>
<line x1="83.70" y1="619.40" x2="83.70" y2="622.40" stroke="#555" stroke-width="0.9" />
<text x="83.70" y="632.20" font-size="10.2" text-anchor="middle" font-weight="normal" fill="#222" stroke="#222" stroke-width="0.25"  style="">2e+04</text>
<line x1="118.30" y1="619.40" x2="118.30" y2="622.40" stroke="#555" stroke-width="0.9" />
<text x="118.30" y="632.20" font-size="10.2" text-anchor="middle" font-weight="normal" fill="#222" stroke="#222" stroke-width="0.25"  style="">4e+04</text>
<line x1="152.90" y1="619.40" x2="152.90" y2="622.40" stroke="#555" stroke-width="0.9" />
<text x="152.90" y="632.20" font-size="10.2" text-anchor="middle" font-weight="normal" fill="#222" stroke="#222" stroke-width="0.25"  style="">6e+04</text>
<line x1="187.50" y1="619.40" x2="187.50" y2="622.40" stroke="#555" stroke-width="0.9" />
<text x="187.50" y="632.20" font-size="10.2" text-anchor="middle" font-weight="normal" fill="#222" stroke="#222" stroke-width="0.25"  style="">8e+04</text>
<line x1="222.10" y1="619.40" x2="222.10" y2="622.40" stroke="#555" stroke-width="0.9" />
<text x="222.10" y="632.20" font-size="10.2" text-anchor="middle" font-weight="normal" fill="#222" stroke="#222" stroke-width="0.25"  style="">1e+05</text>
<text x="129.70" y="645.30" font-size="10.15" text-anchor="middle" font-weight="normal" fill="#222" stroke="#222" stroke-width="0.25"  style="">Dose (number of cells)</text>
<text x="0" y="0" transform="translate(18.60,532.50) rotate(-90)" font-size="10.2" text-anchor="middle" font-weight="normal" fill="#222" stroke="#222" stroke-width="0.25">log fraction nonresponding</text>
<text x="166.40" y="476.90" font-size="8.0" text-anchor="start" font-weight="bold" fill="#111" stroke="#111" stroke-width="0.25"  style="">AE9a</text>
<text x="100.40" y="575.30" font-size="8.0" text-anchor="start" font-weight="bold" fill="#4a8a30" stroke="#4a8a30" stroke-width="0.25"  style="">miR-126KO+AE9a</text>
<text x="0" y="0" transform="translate(67.20,617.20) rotate(-90)" font-size="8.0" text-anchor="start" font-weight="bold" fill="#c0282d" stroke="#c0282d" stroke-width="0.25">AE9a+miR-126</text>
<clipPath id="clip321"><rect x="321.90" y="442.40" width="187.70" height="176.80"/></clipPath>
<g clip-path="url(#clip321)">
<line x1="328.80" y1="448.30" x2="728.80" y2="565.10" stroke="#e09090" stroke-width="1.0" stroke-dasharray="1.2 1.5"/>
<line x1="328.80" y1="448.30" x2="728.80" y2="976.30" stroke="#b09090" stroke-width="1.0" stroke-dasharray="1.2 1.5"/>
<line x1="328.80" y1="448.30" x2="728.80" y2="1209.50" stroke="#666" stroke-width="1.0" stroke-dasharray="1.2 1.5"/>
<line x1="328.80" y1="448.30" x2="728.80" y2="4352.30" stroke="#555" stroke-width="1.0" stroke-dasharray="1.2 1.5"/>
<line x1="328.80" y1="448.30" x2="728.80" y2="696.70" stroke="#c85858" stroke-width="1.0" />
<line x1="328.80" y1="448.30" x2="728.80" y2="2188.30" stroke="#444" stroke-width="1.0" />
</g>
<rect x="321.90" y="442.40" width="187.70" height="176.80" fill="none" stroke="#767676" stroke-width="1.2"/>
<rect x="323.10" y="443.00" width="5.2" height="5.2" fill="none" stroke="#888" stroke-width="0.8"/>
<circle cx="337.30" cy="448.90" r="1.5" fill="none" stroke="#d05050" stroke-width="0.8"/>
<circle cx="345.40" cy="451.20" r="1.5" fill="none" stroke="#d05050" stroke-width="0.8"/>
<circle cx="415.60" cy="487.00" r="1.5" fill="none" stroke="#b08080" stroke-width="0.8"/>
<circle cx="337.50" cy="465.60" r="1.5" fill="none" stroke="#444" stroke-width="0.8"/>
<circle cx="346.20" cy="564.40" r="1.5" fill="none" stroke="#888" stroke-width="0.8"/>
<polygon points="413.50,607.90 417.50,607.90 415.50,611.30" fill="none" stroke="#555" stroke-width="0.8"/>
<polygon points="500.20,610.00 504.20,610.00 502.20,613.40" fill="none" stroke="#906060" stroke-width="0.8"/>
<polygon points="500.20,608.40 504.20,608.40 502.20,611.80" fill="none" stroke="#c05050" stroke-width="0.8"/>
<line x1="318.40" y1="448.30" x2="321.90" y2="448.30" stroke="#555" stroke-width="0.9" />
<text x="0" y="0" transform="translate(314.10,448.30) rotate(-90)" font-size="10.2" text-anchor="middle" font-weight="normal" fill="#222" stroke="#222" stroke-width="0.25">0.0</text>
<line x1="318.40" y1="483.80" x2="321.90" y2="483.80" stroke="#555" stroke-width="0.9" />
<text x="0" y="0" transform="translate(314.10,483.50) rotate(-90)" font-size="10.2" text-anchor="middle" font-weight="normal" fill="#222" stroke="#222" stroke-width="0.25">-0.5</text>
<line x1="318.40" y1="519.30" x2="321.90" y2="519.30" stroke="#555" stroke-width="0.9" />
<text x="0" y="0" transform="translate(314.10,518.70) rotate(-90)" font-size="10.2" text-anchor="middle" font-weight="normal" fill="#222" stroke="#222" stroke-width="0.25">-1.0</text>
<line x1="318.40" y1="554.80" x2="321.90" y2="554.80" stroke="#555" stroke-width="0.9" />
<text x="0" y="0" transform="translate(314.10,553.90) rotate(-90)" font-size="10.2" text-anchor="middle" font-weight="normal" fill="#222" stroke="#222" stroke-width="0.25">-1.5</text>
<line x1="318.40" y1="590.30" x2="321.90" y2="590.30" stroke="#555" stroke-width="0.9" />
<text x="0" y="0" transform="translate(314.10,589.10) rotate(-90)" font-size="10.2" text-anchor="middle" font-weight="normal" fill="#222" stroke="#222" stroke-width="0.25">-2.0</text>
<line x1="328.80" y1="619.20" x2="328.80" y2="622.20" stroke="#555" stroke-width="0.9" />
<text x="328.80" y="632.20" font-size="10.2" text-anchor="middle" font-weight="normal" fill="#222" stroke="#222" stroke-width="0.25"  style="">0e+00</text>
<line x1="363.48" y1="619.20" x2="363.48" y2="622.20" stroke="#555" stroke-width="0.9" />
<text x="363.48" y="632.20" font-size="10.2" text-anchor="middle" font-weight="normal" fill="#222" stroke="#222" stroke-width="0.25"  style="">2e+05</text>
<line x1="398.16" y1="619.20" x2="398.16" y2="622.20" stroke="#555" stroke-width="0.9" />
<text x="398.16" y="632.20" font-size="10.2" text-anchor="middle" font-weight="normal" fill="#222" stroke="#222" stroke-width="0.25"  style="">4e+05</text>
<line x1="432.84" y1="619.20" x2="432.84" y2="622.20" stroke="#555" stroke-width="0.9" />
<text x="432.84" y="632.20" font-size="10.2" text-anchor="middle" font-weight="normal" fill="#222" stroke="#222" stroke-width="0.25"  style="">6e+05</text>
<line x1="467.52" y1="619.20" x2="467.52" y2="622.20" stroke="#555" stroke-width="0.9" />
<text x="467.52" y="632.20" font-size="10.2" text-anchor="middle" font-weight="normal" fill="#222" stroke="#222" stroke-width="0.25"  style="">8e+05</text>
<line x1="502.20" y1="619.20" x2="502.20" y2="622.20" stroke="#555" stroke-width="0.9" />
<text x="502.20" y="632.20" font-size="10.2" text-anchor="middle" font-weight="normal" fill="#222" stroke="#222" stroke-width="0.25"  style="">1e+06</text>
<text x="422.90" y="645.30" font-size="10.15" text-anchor="middle" font-weight="normal" fill="#222" stroke="#222" stroke-width="0.25"  style="">Dose (number of cells)</text>
<text x="0" y="0" transform="translate(298.80,532.50) rotate(-90)" font-size="10.2" text-anchor="middle" font-weight="normal" fill="#222" stroke="#222" stroke-width="0.25">log fraction nonresponding</text>
<text x="341.20" y="595.20" font-size="8.0" text-anchor="start" font-weight="bold" fill="#111" stroke="#111" stroke-width="0.25"  style="">AE9a+miR-126</text>
<text x="418.20" y="516.20" font-size="8.0" text-anchor="start" font-weight="bold" fill="#c0282d" stroke="#c0282d" stroke-width="0.25"  style="">miR-126KO+AE9a</text>
</svg>
</body></html>
